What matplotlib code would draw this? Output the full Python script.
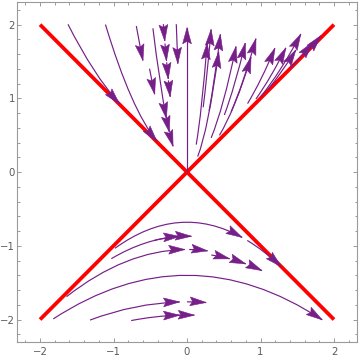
import numpy as np
import matplotlib
matplotlib.use("Agg")
import matplotlib.pyplot as plt
from matplotlib.path import Path
from matplotlib.patches import PathPatch, Polygon
from matplotlib.ticker import MultipleLocator, FixedLocator, FixedFormatter

# ---------------- data ----------------
# light-cone boundaries y = x and y = -x
cone_x = [-2.0, 2.0]
cone_rising = [-2.0, 2.0]
cone_falling = [2.0, -2.0]

# stream segments on confocal parabolas y = a + x^2/(4a)
# (a > 0: upper cone, a < 0: lower cone); each runs from x0 to x1 (arrow at x1)
stream_a = [
    # upper-left
    0.412, 0.168, 0.062, 0.048, 0.028, 0.028, 0.028,
    0.013, 0.013, 0.013, 0.013, 0.00266,
    # upper-right
    0.0108, 0.014, 0.029, 0.028, 0.068, 0.095, 0.133, 0.131,
    0.25, 0.335, 0.41, 0.4575, 0.665, 0.759,
    # lower cone
    -0.68, -0.68, -0.87, -0.87, -1.05, -1.05, -1.10, -1.10, -1.10,
    -1.40, -1.76, -1.76, -1.94, -1.94,
]
stream_x0 = [
    -1.62, -1.11, -0.69, -0.51, -0.464, -0.275, -0.235,
    -0.322, -0.300, -0.277, -0.253, -0.146,
    0.125, 0.22, 0.145, 0.30, 0.328, 0.508, 0.441, 0.60,
    0.824, 0.938, 1.00, 1.10, 1.40, 1.60,
    -0.98, 0.82, -1.03, -0.45, -1.64, 0.03, 0.33, 0.62, 0.84,
    -1.82, -1.32, 0.00, -0.76, -0.30,
]
stream_x1 = [
    -0.92, -0.41, -0.60, -0.44, -0.28, -0.24, -0.19,
    -0.303, -0.279, -0.255, -0.229, -0.125,
    0.274, 0.328, 0.431, 0.454, 0.667, 0.793, 0.871, 0.938,
    1.196, 1.345, 1.549, 1.481, 1.706, 1.82,
    0.75, 1.28, -0.10, 0.06, -0.03, 0.28, 0.58, 0.80, 1.02,
    1.84, -0.10, 0.26, -0.10, 0.10,
]

# the degenerate stream along the time axis (x = 0)
axis_stream_x = [0.0, 0.0]
axis_stream_y = [0.0, 1.96]

tick_values = [-2, -1, 0, 1, 2]
tick_labels = ["\u22122", "\u22121", "0", "1", "2"]

# ---------------- styling ----------------
PURPLE = "#761f88"
RED = "#ff0000"
FRAME = "#9a9a9a"
LABEL = "#5a5a5a"
HEAD_LEN = 0.22
HEAD_HALF_W = 0.06
HEAD_NOTCH = 0.035

fig = plt.figure(figsize=(3.6, 3.6), dpi=100)
ax = fig.add_axes([0.048, 0.049, 0.943, 0.946])
ax.set_xlim(-2.31, 2.31)
ax.set_ylim(-2.31, 2.31)

ax.plot(cone_x, cone_rising, color=RED, lw=2.7, solid_capstyle="butt", zorder=2)
ax.plot(cone_x, cone_falling, color=RED, lw=2.7, solid_capstyle="butt", zorder=2)


def arrow_head(tip, d):
    d = np.asarray(d, float)
    d = d / np.hypot(*d)
    n = np.array([-d[1], d[0]])
    tip = np.asarray(tip, float)
    back = tip - HEAD_LEN * d
    notch = tip - (HEAD_LEN - HEAD_NOTCH) * d
    pts = [tip, back + HEAD_HALF_W * n, notch, back - HEAD_HALF_W * n]
    ax.add_patch(Polygon(pts, closed=True, fc=PURPLE, ec=PURPLE, lw=0.4,
                         zorder=4, joinstyle="miter"))


for a, x0, x1 in zip(stream_a, stream_x0, stream_x1):
    y0 = a + x0 * x0 / (4 * a)
    y1 = a + x1 * x1 / (4 * a)
    xm = 0.5 * (x0 + x1)
    ym = y0 + (x0 / (2 * a)) * (xm - x0)
    path = Path([(x0, y0), (xm, ym), (x1, y1)],
                [Path.MOVETO, Path.CURVE3, Path.CURVE3])
    ax.add_patch(PathPatch(path, fill=False, ec=PURPLE, lw=0.85, zorder=3))
    arrow_head((x1, y1), (1.0, x1 / (2 * a)))

ax.plot(axis_stream_x, axis_stream_y, color=PURPLE, lw=0.85, zorder=3)
arrow_head((axis_stream_x[1], axis_stream_y[1]),
           (axis_stream_x[1] - axis_stream_x[0], axis_stream_y[1] - axis_stream_y[0]))

# ---------------- frame & ticks ----------------
for axis in (ax.xaxis, ax.yaxis):
    axis.set_major_locator(FixedLocator(tick_values))
    axis.set_major_formatter(FixedFormatter(tick_labels))
    axis.set_minor_locator(MultipleLocator(0.2))

ax.tick_params(which="both", direction="in", top=True, right=True,
               color=FRAME, width=0.7, labelcolor=LABEL, labelsize=7.3)
ax.tick_params(which="major", length=3.2)
ax.tick_params(which="minor", length=1.8)
ax.tick_params(axis="x", pad=3.5)
ax.tick_params(axis="y", pad=1.8)
for s in ax.spines.values():
    s.set_color(FRAME)
    s.set_linewidth(0.8)

fig.savefig("out.png", dpi=100)
